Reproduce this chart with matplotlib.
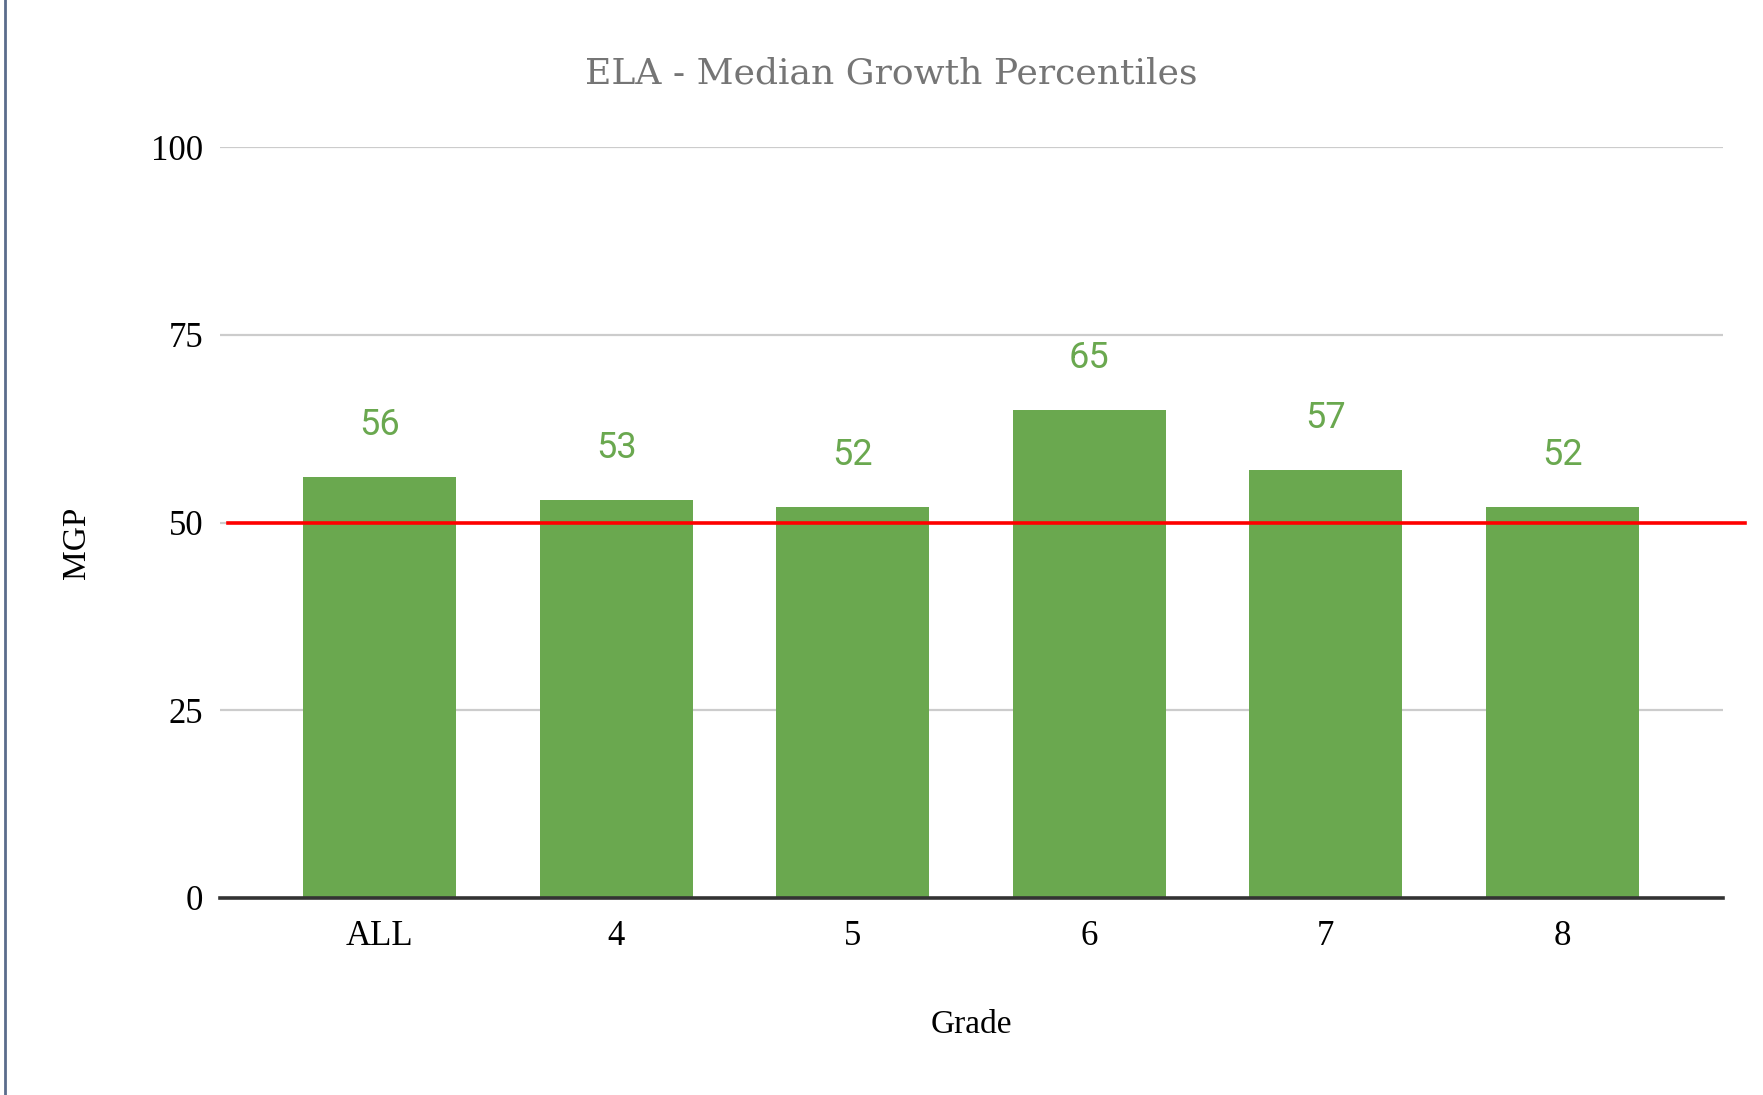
import matplotlib
matplotlib.use("Agg")
import matplotlib.pyplot as plt
from matplotlib.lines import Line2D

categories = ["ALL", "4", "5", "6", "7", "8"]
mgp_values = [56, 53, 52, 65, 57, 52]
y_ticks = [0, 25, 50, 75, 100]
target_line = 50

W, H = 1763, 1095
fig = plt.figure(figsize=(W / 100, H / 100), dpi=100)
ax = fig.add_axes([220 / W, 1 - 898 / H, (1723 - 220) / W, (898 - 147) / H])

green = "#6aa84f"
x = list(range(len(categories)))
ax.bar(x, mgp_values, width=0.647, color=green, zorder=3)

for xi, v in zip(x, mgp_values):
    ax.annotate(str(v), (xi, v), xytext=(0, 52), textcoords="offset pixels",
                ha="center", va="center", color=green, fontsize=26,
                family="Roboto", zorder=4)

ax.set_xlim(-0.676, len(categories) - 1 + 0.68)
ax.set_ylim(0, 100)
ax.set_yticks(y_ticks)
ax.set_yticklabels([str(t) for t in y_ticks], family="Liberation Serif", fontsize=25)
ax.set_xticks(x)
ax.set_xticklabels(categories, family="Liberation Serif", fontsize=25)
ax.tick_params(axis="both", length=0, colors="#000000")
ax.tick_params(axis="y", pad=12)
ax.tick_params(axis="x", pad=16)

for s in ["top", "right", "left", "bottom"]:
    ax.spines[s].set_visible(False)

for t in y_ticks[1:]:
    ax.axhline(t, color="#cccccc", lw=1.6, zorder=1)
ax.axhline(0, color="#333333", lw=2.6, zorder=4, clip_on=False)

# red reference line at 50, slightly beyond axes
ax.plot([(228 - 220) / 1503, (1745 - 220) / 1503], [target_line, target_line],
        transform=ax.get_yaxis_transform(), color="#ff0000", lw=2.6,
        clip_on=False, zorder=5)

fig.text(891 / W, 1 - 73 / H, "ELA - Median Growth Percentiles", ha="center",
         va="center", color="#757575", fontsize=26, family="DejaVu Serif")
fig.text(971 / W, 1 - 1025 / H, "Grade", ha="center", va="center",
         fontsize=24, family="Liberation Serif")
fig.text(77 / W, 1 - 543 / H, "MGP", ha="center", va="center", rotation=90,
         fontsize=24, family="Liberation Serif")

# left border line
fig.add_artist(Line2D([5 / W, 5 / W], [0, 1], transform=fig.transFigure,
                      color="#5b6c8c", lw=2))

fig.savefig("out.png", dpi=100, facecolor="white")
